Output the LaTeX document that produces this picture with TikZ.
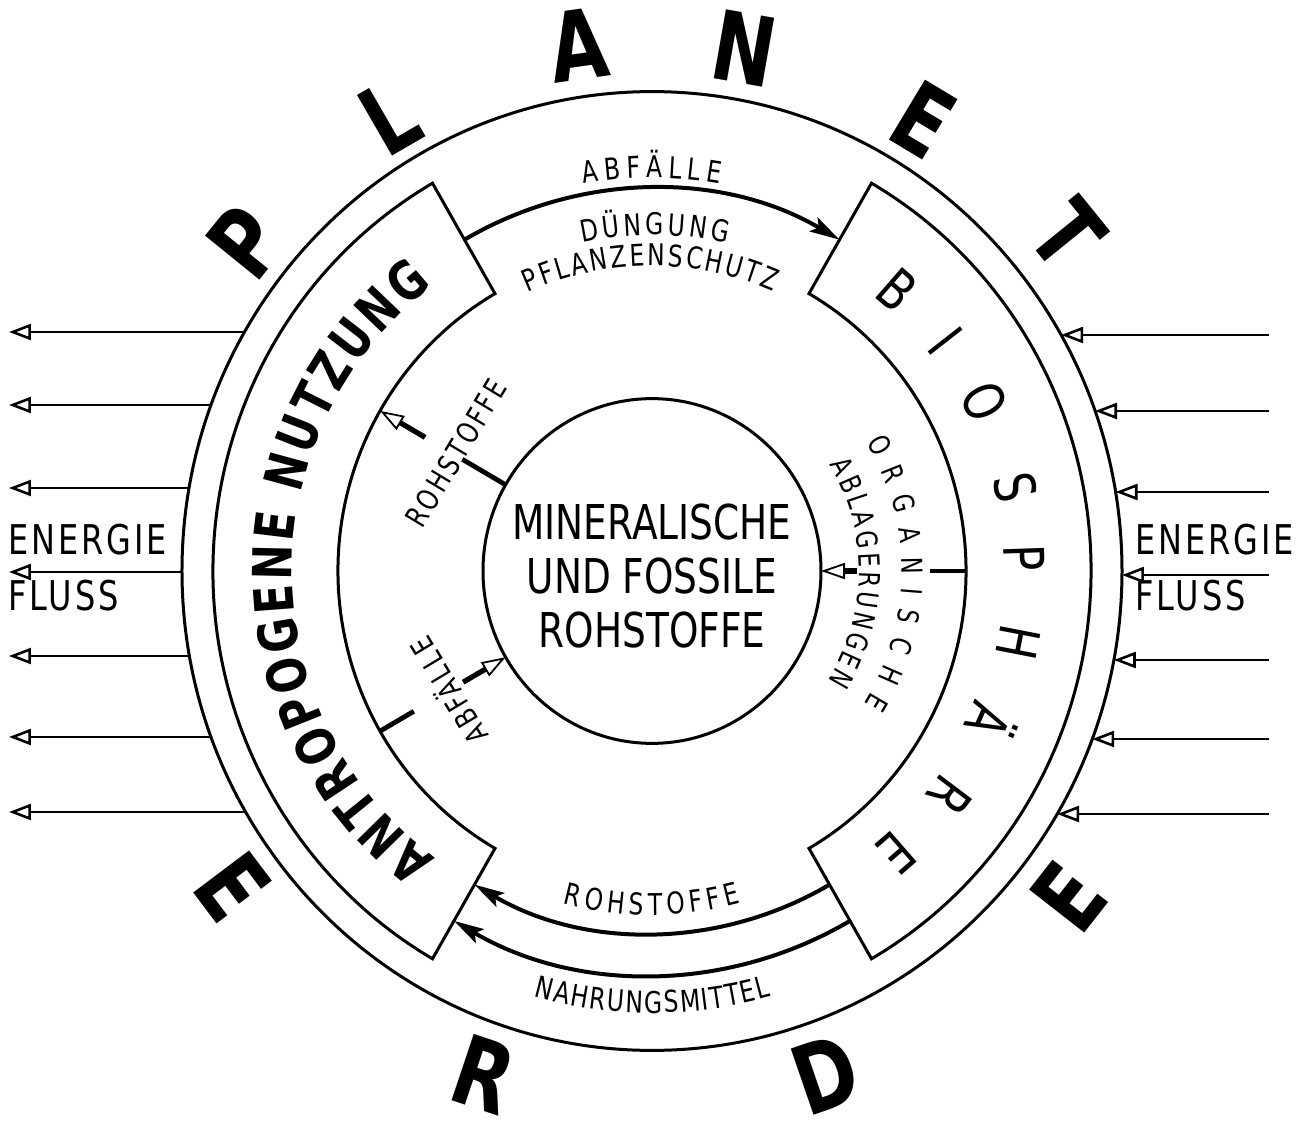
\documentclass[tikz,border=0pt]{standalone}
\usepackage{fontspec}
\setmainfont{DejaVu Sans}[FakeStretch=0.78]
\usetikzlibrary{arrows.meta,decorations.text}

\newcommand\planetfont{\fontsize{48}{48}\selectfont\bfseries}
\newcommand\sectorfont{\fontsize{27}{27}\selectfont\bfseries}
\newcommand\biofont{\fontsize{28}{28}\selectfont}
\newcommand\flowfont{\fontsize{15}{15}\selectfont}
\newcommand\orgfont{\fontsize{14.5}{14.5}\selectfont}

\begin{document}
\begin{tikzpicture}[x=0.5pt, y=0.5pt,
  ringline/.style={line width=1.5pt},
  flow/.style={line width=2pt, -{Stealth[length=15pt, width=8pt, inset=3pt]}},
  energy/.style={line width=1.3pt, -{Triangle[open, length=11pt, width=8pt]}},
  tickline/.style={line width=2.4pt},
  openflow/.style={line width=2.6pt, -{Triangle[open, length=12pt, width=8pt, line width=0.9pt]}},
  bigletter/.style={inner sep=0pt, font=\planetfont},
  biotext/.style={inner sep=0pt, font=\biofont},
  innertext/.style={inner sep=0pt, font={\fontsize{15}{15}\selectfont\addfontfeature{LetterSpace=10}}},
  energytext/.style={inner sep=0pt, anchor=west, font={\fontsize{20.5}{20.5}\selectfont\addfontfeature{LetterSpace=7}}},
  curved/.style={decorate, decoration={text along path, text align=fit to path, text={#1}}}]

\fill[white] (-652,-553) rectangle (659,571);
\useasboundingbox (-652,-553) rectangle (659,571);

% rings and the two sectors
\begin{scope}[yscale=1.02]
  \draw[ringline] (0,0) circle[radius=470];
  \draw[ringline] (0,0) circle[radius=169];
  \draw[ringline] (120:314) -- (120:439) arc[start angle=120, end angle=240, radius=439]
    -- (240:314) arc[start angle=240, end angle=120, radius=314] -- cycle;
  \draw[ringline] (-60:314) -- (-60:439) arc[start angle=-60, end angle=60, radius=439]
    -- (60:314) arc[start angle=60, end angle=-60, radius=314] -- cycle;

  % flows between the sectors
  \coordinate (abfStart) at (120:375);
  \coordinate (rohStart) at (300:355);
  \coordinate (nahStart) at (300:396);
  \draw[flow] (abfStart) arc[start angle=120, end angle=60, radius=375];
  \draw[flow] (rohStart) arc[start angle=300, end angle=240, radius=355];
  \draw[flow] (nahStart) arc[start angle=300, end angle=240, radius=396];

  % flows to and from the core
  \path (150:169) coordinate (rohCore) (150:219) coordinate (rohTick)
        (150:262) coordinate (rohStem) (150:314) coordinate (rohTip);
  \path (210:314) coordinate (abfSector) (210:275) coordinate (abfTick)
        (210:218) coordinate (abfStem) (210:169) coordinate (abfTip);
  \path (0:314) coordinate (orgSector) (0:278) coordinate (orgTick)
        (0:205) coordinate (orgStem) (0:169) coordinate (orgTip);
  \draw[tickline] (rohCore) -- (rohTick);
  \draw[openflow] (rohStem) -- (rohTip);
  \draw[tickline] (abfSector) -- (abfTick);
  \draw[openflow] (abfStem) -- (abfTip);
  \draw[tickline] (orgSector) -- (orgTick);
  \draw[openflow] (orgStem) -- (orgTip);
\end{scope}

% energy flow
\foreach \y [count=\i] in {239,166,83,-1,-85,-166,-241} {
  \pgfmathsetmacro\xe{470*sqrt(1-(\y/479.4)^2)}
  \coordinate (outL\i) at (-\xe,\y);
  \coordinate (tipL\i) at (-643,\y);
  \draw[energy] (outL\i) -- (tipL\i);
}
\foreach \y [count=\i] in {236,160,79,-4,-89,-168,-243} {
  \pgfmathsetmacro\xe{470*sqrt(1-(\y/479.4)^2)}
  \coordinate (outR\i) at (\xe,\y);
  \coordinate (tailR\i) at (617,\y);
  \draw[energy] (tailR\i) -- (outR\i);
}
\node[energytext] (energieL) at (-644,31) {ENERGIE};
\node[energytext] (flussL) at (-644,-25) {FLUSS};
\node[energytext] (energieR) at (483,31) {ENERGIE};
\node[energytext] (flussR) at (483,-25) {FLUSS};

% planet erde
\foreach \l/\a/\r [count=\i] in {P/141/523, L/120/524, A/98/531, N/80/531, E/59/527, T/39/535}
  \node[bigletter, rotate=\a-90] (planet\i) at (\a:\r) {\l};
\foreach \l/\a/\r [count=\i] in {E/217/525, R/251.5/531, D/289/532, E/322/529}
  \node[bigletter, rotate=\a+90] (erde\i) at (\a:\r) {\l};

% sectors
\path[curved={|\sectorfont|ANTROPOGENE NUTZUNG}] (233:360) arc[start angle=233, end angle=127.5, radius=360];
\foreach \l/\a [count=\i] in {B/49,I/38,O/27,S/13,P/2,H/-11,Ä/-24,R/-37,E/-49}
  \node[biotext, rotate=\a-90] (bio\i) at (\a:373) {\l};

% core
\node[align=center, inner sep=0pt, font=\fontsize{24}{27}\selectfont] (mineral) at (0,-5)
  {MINERALISCHE\\UND FOSSILE\\ROHSTOFFE};

% flow labels
\path[curved={|\flowfont|ABFÄLLE}] (100:393) arc[start angle=100, end angle=80, radius=393];
\path[curved={|\flowfont|DÜNGUNG}] (102:336) arc[start angle=102, end angle=77, radius=336];
\path[curved={|\flowfont|PFLANZENSCHUTZ}] (114:305) arc[start angle=114, end angle=66.5, radius=305];
\path[curved={|\flowfont|ROHSTOFFE}] (255:344) arc[start angle=255, end angle=285, radius=344];
\path[curved={|\flowfont|NAHRUNGSMITTEL}] (254.5:442) arc[start angle=254.5, end angle=285.7, radius=442];
\path[curved={|\orgfont|ORGANISCHE}] (31:250) arc[start angle=31, end angle=-32, radius=250];
\path[curved={|\orgfont|ABLAGERUNGEN}] (31:207) arc[start angle=31, end angle=-32, radius=207];
\node[innertext, rotate=59] (rohLabel) at (-196,118) {ROHSTOFFE};
\node[innertext, rotate=121] (abfLabel) at (-205,-121) {ABFÄLLE};
\end{tikzpicture}
\end{document}
